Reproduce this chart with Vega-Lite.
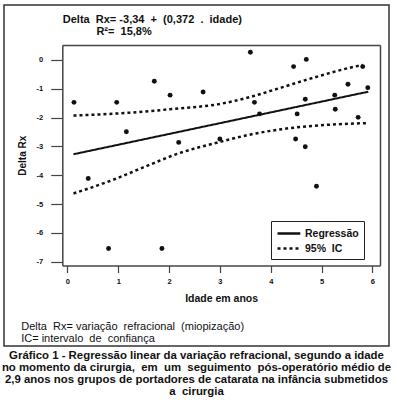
{
  "$schema": "https://vega.github.io/schema/vega-lite/v6.json",
  "width": 385,
  "height": 341,
  "autosize": {"type": "none"},
  "padding": {"left": 4, "top": 5, "right": 8, "bottom": 64},
  "background": "white",
  "config": {
    "font": "Liberation Sans",
    "view": {"stroke": "#333", "strokeWidth": 1.5},
    "axis": {"grid": false, "domainColor": "#444", "domainWidth": 1.5, "tickColor": "#444", "tickWidth": 1.2, "labelColor": "#111", "titleColor": "#111", "labelFont": "Liberation Sans", "titleFont": "Liberation Sans"}
  },
  "title": {
    "text": [
      "Gráfico 1 - Regressão linear da variação refracional, segundo a idade",
      "no momento da cirurgia,\u00a0\u00a0em\u00a0\u00a0um\u00a0\u00a0seguimento\u00a0\u00a0pós-operatório médio de",
      "2,9 anos nos grupos de portadores de catarata na infância submetidos",
      "a\u00a0\u00a0cirurgia"
    ],
    "orient": "bottom",
    "anchor": "middle",
    "frame": "group",
    "offset": 4,
    "font": "Liberation Sans",
    "fontSize": 11.4,
    "fontWeight": "bold",
    "lineHeight": 12,
    "color": "#111"
  },
  "datasets": {
    "pts": [
      {"idade": 0.13, "drx": -1.47},
      {"idade": 0.97, "drx": -1.47},
      {"idade": 1.71, "drx": -0.74},
      {"idade": 2.02, "drx": -1.22},
      {"idade": 2.67, "drx": -1.11},
      {"idade": 1.16, "drx": -2.49},
      {"idade": 2.19, "drx": -2.86},
      {"idade": 3.0, "drx": -2.74},
      {"idade": 0.41, "drx": -4.11},
      {"idade": 3.6, "drx": 0.27},
      {"idade": 4.45, "drx": -0.23},
      {"idade": 4.7, "drx": 0.02},
      {"idade": 5.81, "drx": -0.23},
      {"idade": 5.52, "drx": -0.84},
      {"idade": 5.91, "drx": -0.96},
      {"idade": 3.68, "drx": -1.47},
      {"idade": 4.68, "drx": -1.36},
      {"idade": 5.26, "drx": -1.22},
      {"idade": 3.78, "drx": -1.87},
      {"idade": 4.52, "drx": -1.87},
      {"idade": 5.27, "drx": -1.71},
      {"idade": 5.72, "drx": -1.99},
      {"idade": 4.49, "drx": -2.74},
      {"idade": 4.68, "drx": -3.01},
      {"idade": 4.9, "drx": -4.38},
      {"idade": 0.81, "drx": -6.54},
      {"idade": 1.86, "drx": -6.54}
    ],
    "reg": [
      {"idade": 0.12, "drx": -3.27, "serie": "Regressão", "parte": "fit"},
      {"idade": 5.92, "drx": -1.1, "serie": "Regressão", "parte": "fit"}
    ],
    "ci": [
      {"idade": 0.12, "drx": -1.93, "serie": "95%\u00a0\u00a0IC", "parte": "sup"},
      {"idade": 1.21, "drx": -1.83, "serie": "95%\u00a0\u00a0IC", "parte": "sup"},
      {"idade": 2.19, "drx": -1.68, "serie": "95%\u00a0\u00a0IC", "parte": "sup"},
      {"idade": 2.95, "drx": -1.54, "serie": "95%\u00a0\u00a0IC", "parte": "sup"},
      {"idade": 3.56, "drx": -1.3, "serie": "95%\u00a0\u00a0IC", "parte": "sup"},
      {"idade": 4.22, "drx": -0.95, "serie": "95%\u00a0\u00a0IC", "parte": "sup"},
      {"idade": 4.87, "drx": -0.6, "serie": "95%\u00a0\u00a0IC", "parte": "sup"},
      {"idade": 5.53, "drx": -0.28, "serie": "95%\u00a0\u00a0IC", "parte": "sup"},
      {"idade": 5.81, "drx": -0.17, "serie": "95%\u00a0\u00a0IC", "parte": "sup"},
      {"idade": 0.12, "drx": -4.63, "serie": "95%\u00a0\u00a0IC", "parte": "inf"},
      {"idade": 0.88, "drx": -4.17, "serie": "95%\u00a0\u00a0IC", "parte": "inf"},
      {"idade": 1.53, "drx": -3.7, "serie": "95%\u00a0\u00a0IC", "parte": "inf"},
      {"idade": 2.19, "drx": -3.24, "serie": "95%\u00a0\u00a0IC", "parte": "inf"},
      {"idade": 2.98, "drx": -2.85, "serie": "95%\u00a0\u00a0IC", "parte": "inf"},
      {"idade": 3.56, "drx": -2.6, "serie": "95%\u00a0\u00a0IC", "parte": "inf"},
      {"idade": 4.22, "drx": -2.4, "serie": "95%\u00a0\u00a0IC", "parte": "inf"},
      {"idade": 4.87, "drx": -2.28, "serie": "95%\u00a0\u00a0IC", "parte": "inf"},
      {"idade": 5.89, "drx": -2.19, "serie": "95%\u00a0\u00a0IC", "parte": "inf"}
    ]
  },
  "layer": [
    {
      "data": {"name": "pts"},
      "mark": {"type": "circle", "size": 24, "color": "#111", "opacity": 1},
      "encoding": {
        "x": {
          "field": "idade", "type": "quantitative",
          "scale": {"domain": [-0.1, 6.15], "range": [58.3, 376], "nice": false, "zero": false},
          "axis": {
            "orient": "bottom", "offset": -80.5, "values": [0, 1, 2, 3, 4, 5, 6], "format": "d",
            "tickSize": 7, "labelFontSize": 7.5, "labelFontWeight": "bold", "labelPadding": 5,
            "title": "Idade em anos", "titleFontSize": 10.5, "titleFontWeight": "bold", "titlePadding": 8
          }
        },
        "y": {
          "field": "drx", "type": "quantitative",
          "scale": {"domain": [-7.13, 0.52], "range": [260.5, 40], "nice": false, "zero": false},
          "axis": {
            "orient": "left", "offset": -58.3, "values": [0, -1, -2, -3, -4, -5, -6, -7],
            "labelExpr": "datum.value < 0 ? '-' + abs(datum.value) : '' + datum.value",
            "tickSize": 11.6, "labelFontSize": 7.5, "labelFontWeight": "bold", "labelPadding": 8,
            "title": "Delta Rx", "titleFontSize": 10, "titleFontWeight": "bold", "titlePadding": 9
          }
        }
      }
    },
    {
      "data": {"name": "reg"},
      "mark": {"type": "line", "color": "#111", "strokeWidth": 2},
      "encoding": {
        "x": {
          "field": "idade", "type": "quantitative",
          "axis": {
            "orient": "top", "offset": -40, "ticks": false, "labels": false,
            "title": ["Delta\u00a0\u00a0Rx=\u00a0-3,34\u00a0\u00a0+\u00a0\u00a0(0,372\u00a0\u00a0.\u00a0\u00a0idade)", "\u200b\u00a0\u00a0\u00a0\u00a0\u00a0\u00a0\u00a0\u00a0\u00a0\u00a0\u00a0R²=\u00a0\u00a015,8%"],
            "titleAnchor": "start", "titleAlign": "left", "titleFontSize": 11, "titleFontWeight": "bold",
            "titleLineHeight": 11.5, "titlePadding": 9
          }
        },
        "y": {
          "field": "drx", "type": "quantitative",
          "axis": {"orient": "right", "offset": -9, "ticks": false, "labels": false, "title": null}
        },
        "strokeDash": {
          "field": "serie", "type": "nominal",
          "scale": {"domain": ["Regressão", "95%\u00a0\u00a0IC"], "range": [[1, 0], [3, 3]]},
          "legend": {
            "orient": "none", "legendX": 267, "legendY": 216, "title": null,
            "strokeColor": "#222", "fillColor": "white", "padding": 5,
            "symbolType": "M-1,0H2.8", "symbolSize": 144, "symbolStrokeWidth": 2.5,
            "symbolStrokeColor": "#111", "symbolFillColor": "transparent",
            "labelFontSize": 10.5, "labelFontWeight": "bold", "labelColor": "#111",
            "labelOffset": 14, "rowPadding": 2
          }
        },
        "detail": {"field": "parte"}
      }
    },
    {
      "data": {"name": "ci"},
      "mark": {"type": "line", "color": "#111", "strokeWidth": 2.5, "interpolate": "monotone"},
      "encoding": {
        "x": {
          "field": "idade", "type": "quantitative",
          "axis": {
            "orient": "bottom", "offset": 0, "domain": false, "ticks": false, "labels": false,
            "title": ["Delta\u00a0\u00a0Rx=\u00a0variação\u00a0\u00a0refracional\u00a0\u00a0(miopização)", "IC=\u00a0intervalo\u00a0\u00a0de\u00a0\u00a0confiança"],
            "titleX": 16.7, "titleY": -16.5, "titleAlign": "left", "titleBaseline": "alphabetic",
            "titleFontSize": 11, "titleFontWeight": "normal", "titleLineHeight": 11.5
          }
        },
        "y": {"field": "drx", "type": "quantitative", "axis": null},
        "strokeDash": {
          "field": "serie", "type": "nominal",
          "scale": {"domain": ["Regressão", "95%\u00a0\u00a0IC"], "range": [[1, 0], [3, 3]]},
          "legend": {
            "orient": "none", "legendX": 267, "legendY": 216, "title": null,
            "strokeColor": "#222", "fillColor": "white", "padding": 5,
            "symbolType": "M-1,0H2.8", "symbolSize": 144, "symbolStrokeWidth": 2.5,
            "symbolStrokeColor": "#111", "symbolFillColor": "transparent",
            "labelFontSize": 10.5, "labelFontWeight": "bold", "labelColor": "#111",
            "labelOffset": 14, "rowPadding": 2
          }
        },
        "detail": {"field": "parte"}
      }
    }
  ],
  "resolve": {"axis": {"x": "independent", "y": "independent"}}
}
